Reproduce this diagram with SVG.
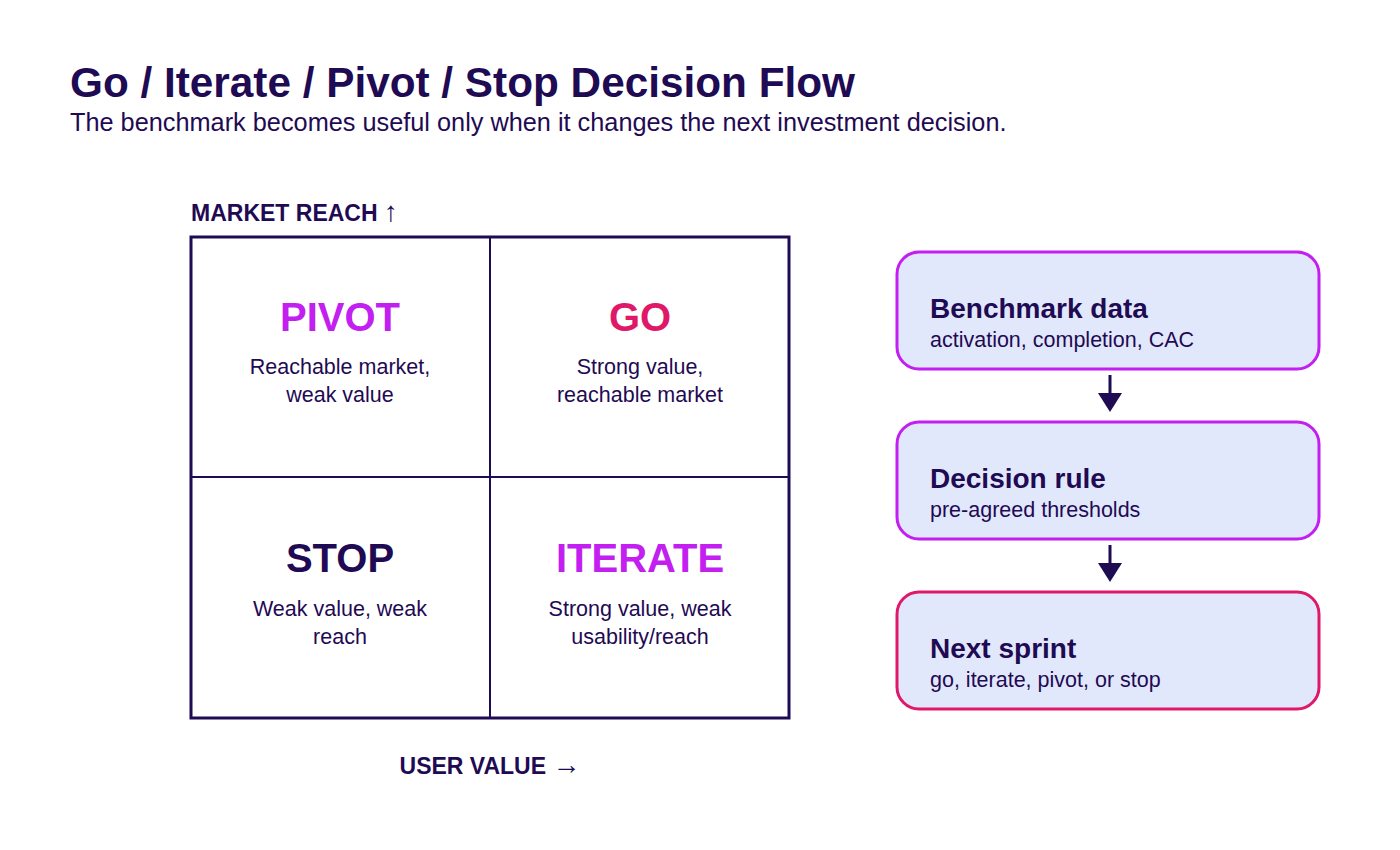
<svg xmlns="http://www.w3.org/2000/svg" width="1400" height="850" viewBox="0 0 1400 850">
<style>
text{font-family:"Liberation Sans",Arial,sans-serif;fill:#1f0a54}
.b{font-weight:bold}
.q{font-size:40px;font-weight:bold;text-anchor:middle}
.s{font-size:21.5px;text-anchor:middle}
.box{fill:#e2e8fb;stroke-width:3}
.bt{font-size:28px;font-weight:bold}
.bs{font-size:21.5px}
.ar{font-family:"Liberation Sans",sans-serif;font-weight:normal;font-size:28px}
</style>
<rect width="1400" height="850" fill="#fff"/>
<text x="70" y="97" class="b" font-size="42.3">Go / Iterate / Pivot / Stop Decision Flow</text>
<text x="70" y="131" font-size="25.3">The benchmark becomes useful only when it changes the next investment decision.</text>
<g id="matrix">
<text x="191" y="221" class="b" font-size="23">MARKET REACH <tspan class="ar">↑</tspan></text>
<rect x="191" y="237" width="598" height="481" fill="none" stroke="#1f0a54" stroke-width="3"/>
<line x1="490" y1="237" x2="490" y2="718" stroke="#1f0a54" stroke-width="2"/>
<line x1="191" y1="477" x2="789" y2="477" stroke="#1f0a54" stroke-width="2"/>
<text x="490" y="774" class="b" font-size="23" text-anchor="middle">USER VALUE <tspan class="ar">→</tspan></text>
</g>
<g id="pivot"><text x="340" y="331" class="q" style="fill:#c21ff0">PIVOT</text><text x="340" y="374" class="s">Reachable market,</text><text x="340" y="402" class="s">weak value</text></g>
<g id="go"><text x="640" y="331" class="q" style="fill:#e0186a">GO</text><text x="640" y="374" class="s">Strong value,</text><text x="640" y="402" class="s">reachable market</text></g>
<g id="stop"><text x="340" y="572" class="q">STOP</text><text x="340" y="616" class="s">Weak value, weak</text><text x="340" y="644" class="s">reach</text></g>
<g id="iterate"><text x="640" y="572" class="q" style="fill:#c21ff0">ITERATE</text><text x="640" y="616" class="s">Strong value, weak</text><text x="640" y="644" class="s">usability/reach</text></g>
<g id="bench"><rect x="897" y="252" width="422" height="117" rx="22" class="box" stroke="#c21ff0"/><text x="930" y="318" class="bt">Benchmark data</text><text x="930" y="347" class="bs">activation, completion, CAC</text></g>
<g id="rule"><rect x="897" y="422" width="422" height="117" rx="22" class="box" stroke="#c21ff0"/><text x="930" y="488" class="bt">Decision rule</text><text x="930" y="517" class="bs">pre-agreed thresholds</text></g>
<g id="sprint"><rect x="897" y="592" width="422" height="117" rx="22" class="box" stroke="#e0186a"/><text x="930" y="658" class="bt">Next sprint</text><text x="930" y="687" class="bs">go, iterate, pivot, or stop</text></g>
<g id="connectors" stroke="#1f0a54" stroke-width="3" fill="none">
<line x1="1110" y1="375" x2="1110" y2="402"/><path d="M1098,393L1122,393L1110,412z" fill="#1f0a54" stroke="none"/>
<line x1="1110" y1="545" x2="1110" y2="572"/><path d="M1098,563L1122,563L1110,582z" fill="#1f0a54" stroke="none"/>
</g>
</svg>
